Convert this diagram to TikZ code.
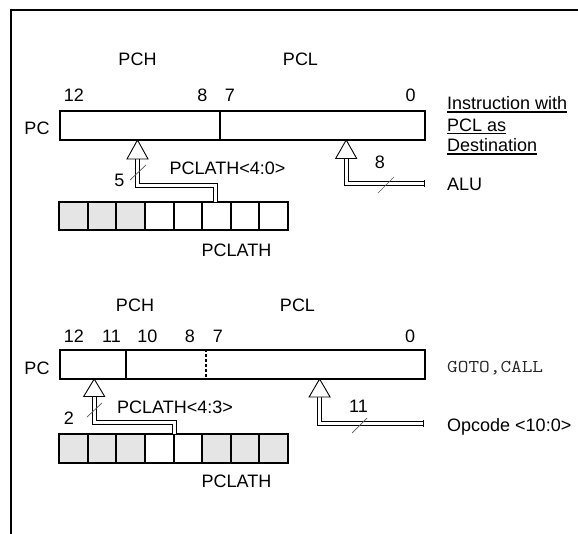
\documentclass[tikz,border=0pt]{standalone}
\usepackage{fontspec}
\setmainfont{Liberation Sans}
\begin{document}
\begin{tikzpicture}[x=1pt,y=-1pt,
  font=\fontsize{18}{21}\selectfont,
  regbox/.style={draw, line width=2.2pt, inner sep=0, minimum height=29pt, anchor=north west},
  cellw/.style={draw, line width=2pt},
  cellg/.style={draw, line width=2pt, fill=black!10},
  bus/.style={double, double distance=3.4pt, line width=0.9pt, line join=miter},
  head/.style={draw, fill=white, line width=0.9pt, line join=miter},
  tick/.style={draw=black!65, line width=0.7pt},
  lbl/.style={anchor=base, inner sep=0},
  lblw/.style={anchor=base west, inner sep=0},
  uline/.style={line width=1.6pt},
  frame/.style={line width=2pt}]
\useasboundingbox (0,0) rectangle (578,534);
% frame
\draw[frame] (10,10) -- (578,10);
\draw[frame] (10.7,9) -- (10.7,534);

% ================= TOP =================
\node[regbox, minimum width=365pt] (pc1) at (59,110) {};
\draw[line width=2pt] (220,110) -- (220,139);
\node[lbl] (pc1l) at (37,135) {PC};
\node[lbl] (pch1) at (137.5,66) {PCH};
\node[lbl] (pcl1) at (300.5,66) {PCL};
\node[lbl] (n12a) at (74,102) {12};
\node[lbl] (n8a) at (202.5,102) {8};
\node[lbl] (n7a) at (230,102) {7};
\node[lbl] (n0a) at (410.5,102) {0};

% PCLATH register (top)
\foreach \i in {0,...,7}{
  \pgfmathsetmacro{\xa}{59+\i*28.625}
  \pgfmathsetmacro{\xb}{59+(\i+1)*28.625}
  \ifnum\i<3 \draw[cellg] (\xa,202) rectangle (\xb,230); \else \draw[cellw] (\xa,202) rectangle (\xb,230); \fi
}
\node[inner sep=0, minimum width=229pt, minimum height=28pt, anchor=north west] (plt1) at (59,202) {};
\node[lbl] (plt1l) at (236.5,257) {PCLATH};

% left bus top
\coordinate (t1) at (137.5,140);
\coordinate (s1) at (137.5,159);
\coordinate (c1) at (215.5,185.6);
\coordinate (e1) at (215.5,202);
\draw[bus] (s1) |- (c1) -- (e1);
\draw[head] (t1) -- ++(-10.5,19) -- ++(21,0) -- cycle;
\draw[tick] (130,180) -- (146,165);
\node[lbl] (five) at (119.5,187) {5};
\node[lbl] (pl40) at (227.5,175) {PCLATH<4:0>};

% right bus top
\coordinate (t2) at (346.2,140);
\coordinate (s2) at (346.2,158.5);
\coordinate (e2) at (424,183.6);
\draw[bus] (s2) |- (e2);
\draw[line width=0.9pt] ([yshift=3.15pt]e2) -- ([yshift=-3.15pt]e2);
\draw[head] (t2) -- ++(-10.5,18.5) -- ++(21,0) -- cycle;
\draw[tick] (378,193) -- (394,177);
\node[lbl] (eight) at (380,169) {8};
\node[lblw] (alu) at (447,191) {ALU};

\node[lblw] (ins1) at (447,110) {Instruction with};
\node[lblw] (ins2) at (447,131.5) {PCL as};
\node[lblw] (ins3) at (447,152) {Destination};
\foreach \n in {ins1,ins2,ins3}
  \draw[uline] ([yshift=-2pt]\n.base west) -- ([yshift=-2pt]\n.base east);

% ================= BOTTOM =================
\node[regbox, minimum width=365pt] (pc2) at (59,349) {};
\draw[line width=2pt] (126,349) -- (126,378);
\draw[line width=2pt, dash pattern=on 3pt off 2pt] (206,349) -- (206,378);
\node[lbl] (pc2l) at (37,374) {PC};
\node[lbl] (pch2) at (135,312) {PCH};
\node[lbl] (pcl2) at (297.5,312) {PCL};
\node[lbl] (n12b) at (74,342) {12};
\node[lbl] (n11b) at (111.5,342) {11};
\node[lbl] (n10b) at (147.5,342) {10};
\node[lbl] (n8b) at (190,342) {8};
\node[lbl] (n7b) at (218,342) {7};
\node[lbl] (n0b) at (410,342) {0};

% PCLATH register (bottom)
\foreach \i in {0,...,7}{
  \pgfmathsetmacro{\xa}{59+\i*28.625}
  \pgfmathsetmacro{\xb}{59+(\i+1)*28.625}
  \ifnum\i=3 \draw[cellw] (\xa,434) rectangle (\xb,463);
  \else\ifnum\i=4 \draw[cellw] (\xa,434) rectangle (\xb,463);
  \else \draw[cellg] (\xa,434) rectangle (\xb,463); \fi\fi
}
\node[inner sep=0, minimum width=229pt, minimum height=29pt, anchor=north west] (plt2) at (59,434) {};
\node[lbl] (plt2l) at (236.5,487) {PCLATH};

% left bus bottom
\coordinate (t3) at (94.2,379);
\coordinate (s3) at (94.2,396.5);
\coordinate (c3) at (174.4,422.6);
\coordinate (e3) at (174.4,434);
\draw[bus] (s3) |- (c3) -- (e3);
\draw[head] (t3) -- ++(-10.5,17.5) -- ++(21,0) -- cycle;
\draw[tick] (87,417) -- (102,403);
\node[lbl] (two) at (69,424) {2};
\node[lbl] (pl43) at (175,413) {PCLATH<4:3>};

% right bus bottom
\coordinate (t4) at (319.6,379);
\coordinate (s4) at (319.6,397);
\coordinate (e4) at (423.3,423.6);
\draw[bus] (s4) |- (e4);
\draw[line width=0.9pt] ([yshift=3.15pt]e4) -- ([yshift=-3.15pt]e4);
\draw[head] (t4) -- ++(-10.5,18) -- ++(21,0) -- cycle;
\draw[tick] (352,433) -- (367,418);
\node[lbl] (eleven) at (358.5,412) {11};
\node[lblw, text=black!85] (goto) at (447,372) {\scalebox{1.15}[1]{\fontsize{18}{21}\ttfamily GOTO,CALL}};
\node[lblw] (opc) at (447,431) {Opcode <10:0>};
\end{tikzpicture}
\end{document}
